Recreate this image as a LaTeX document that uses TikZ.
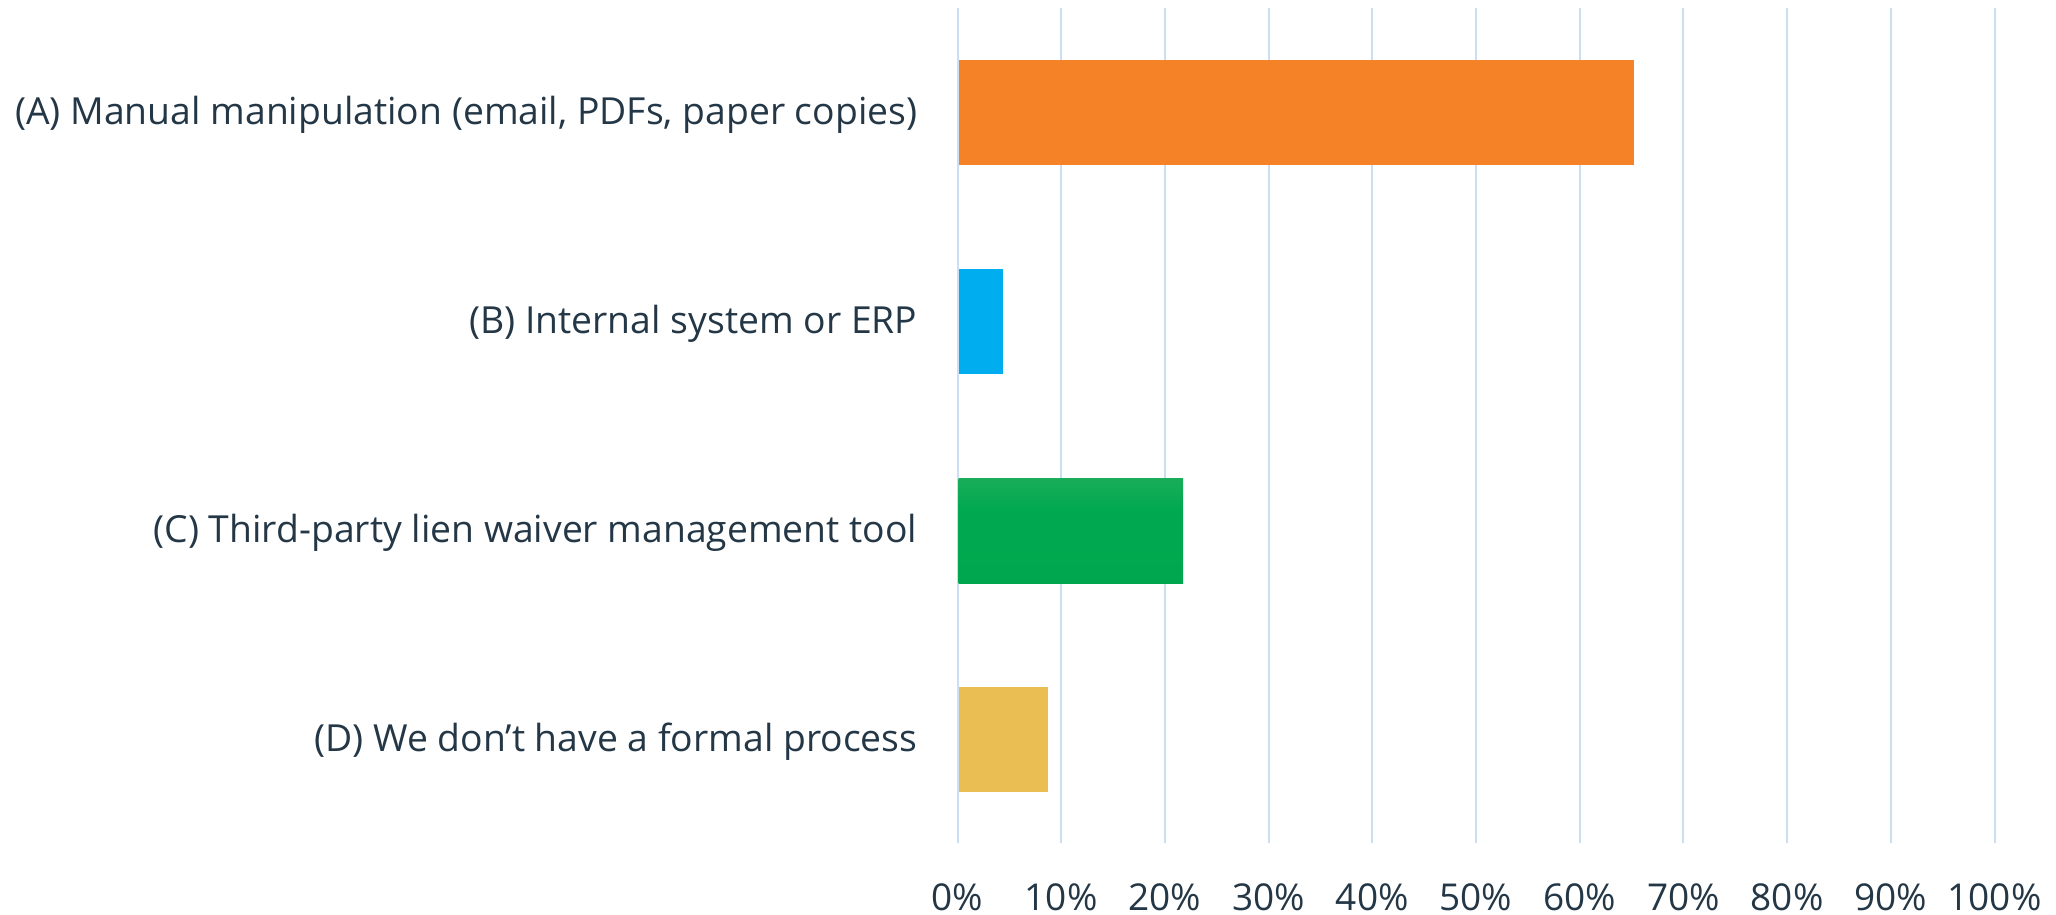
\documentclass[tikz,border=0pt]{standalone}
\usepackage{fontspec}
\setmainfont{Open Sans}
\definecolor{txt}{HTML}{243746}
\definecolor{gridc}{HTML}{CCDFF2}
\definecolor{orangebar}{HTML}{F58226}
\definecolor{bluebar}{HTML}{00AEEF}
\definecolor{yellowbar}{HTML}{EBBE54}
\definecolor{gtop}{HTML}{45B36B}
\definecolor{gmid}{HTML}{00A94F}
\definecolor{gbot}{HTML}{00A34A}
\pgfdeclareverticalshading{greenshade}{100bp}{color(0bp)=(gbot); color(45bp)=(gmid); color(60bp)=(gmid); color(100bp)=(gtop)}
\begin{document}
\begin{tikzpicture}[x=1pt,y=-1pt,
  catlabel/.style={anchor=base east, inner sep=0pt, text=txt, font=\fontsize{37.3}{44}\selectfont},
  ticklabel/.style={anchor=base, inner sep=0pt, text=txt, font=\fontsize{37}{44}\selectfont},
  gridline/.style={draw=gridc, line width=2pt}]
\useasboundingbox (0,0) rectangle (2056,915);
% grid
\foreach \i in {0,...,10} {
  \draw[gridline] ({957.5+103.7*\i},8) -- ({957.5+103.7*\i},843);
  \pgfmathtruncatemacro{\p}{10*\i}
  \node[ticklabel] (t\i) at ({957.5+103.7*\i},910) {\p\%};
}
% bars
\fill[orangebar] (958.5,60) rectangle (1634,165);
\fill[bluebar] (958.5,269) rectangle (1003,374);
\shade[shading=greenshade] (958.5,478) rectangle (1183,583);
\fill[yellowbar] (958.5,687) rectangle (1048,792);
% labels
\node[catlabel] (la) at (917.5,125) {(A) Manual manipulation (email, PDFs, paper copies)};
\node[catlabel] (lb) at (917.5,333) {(B) Internal system or ERP};
\node[catlabel] (lc) at (917.5,542) {(C) Third-party lien waiver management tool};
\node[catlabel] (ld) at (917.5,751) {(D) We don’t have a formal process};
\end{tikzpicture}
\end{document}
